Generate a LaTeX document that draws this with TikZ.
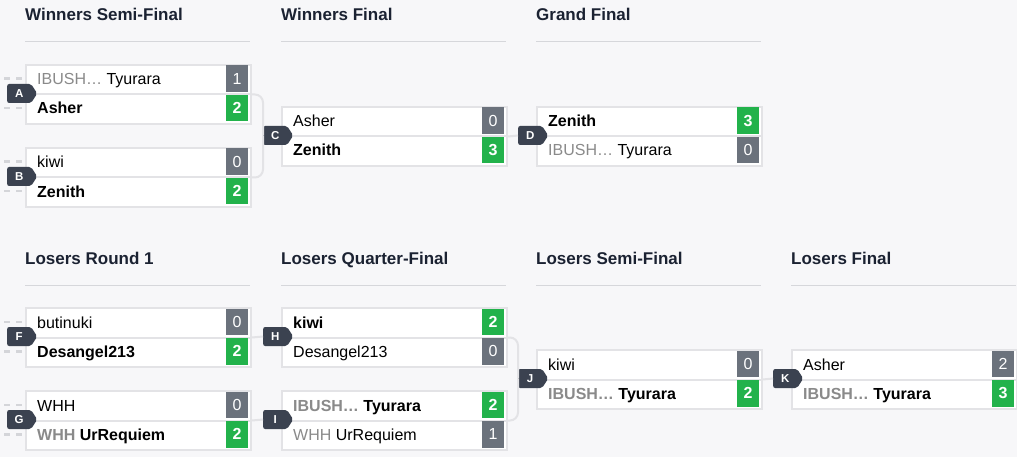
\documentclass[tikz,border=0pt]{standalone}
\usepackage{fontspec}
\setmainfont{Liberation Sans}
\usetikzlibrary{shapes.symbols}

\definecolor{paper}{HTML}{F7F7F9}
\definecolor{frame}{HTML}{E3E3E6}
\definecolor{ink}{HTML}{1B2232}
\definecolor{rulec}{HTML}{D6D7DB}
\definecolor{fade}{HTML}{8A8A8A}
\definecolor{lostc}{HTML}{6B727C}
\definecolor{wonc}{HTML}{22B24B}
\definecolor{tagc}{HTML}{3B4250}
\definecolor{stubc}{HTML}{D4D5D9}

\begin{document}
\begin{tikzpicture}[x=1pt,y=-1pt,
  head/.style={anchor=base west, inner sep=0pt, text=ink, font=\fontsize{17}{20}\selectfont\bfseries},
  rule/.style={draw=rulec, line width=1pt},
  match/.style={draw=frame, line width=2pt, fill=white, anchor=north west, inner sep=0pt, minimum width=225pt, minimum height=59pt},
  divider/.style={draw=frame, line width=2pt},
  pname/.style={anchor=base west, inner sep=0pt, font=\fontsize{16}{19}\selectfont},
  wname/.style={pname, font=\fontsize{16}{19}\selectfont\bfseries},
  lost/.style={fill=lostc, text=white, inner sep=0pt, minimum width=22pt, minimum height=26.5pt, font=\fontsize{16}{19}\selectfont},
  won/.style={lost, fill=wonc, font=\fontsize{16}{19}\selectfont\bfseries},
  badge/.style={shape=signal, signal to=east, signal pointer angle=115, fill=tagc, text=white, rounded corners=2pt, anchor=west, inner sep=0pt, minimum width=30pt, minimum height=19pt, font=\fontsize{11.5}{13}\selectfont\bfseries},
  link/.style={draw=frame, line width=2pt, rounded corners=8pt},
  stub/.style={draw=stubc, line width=2.5pt, dash pattern=on 6pt off 6pt}]

\useasboundingbox (0,0) rectangle (1017,457);
\fill[paper] (0,0) rectangle (1017,457);

%round headings
\node[head] (hws) at (25,21) {Winners Semi-Final};
\node[head] (hwf) at (281,21) {Winners Final};
\node[head] (hgf) at (536,21) {Grand Final};
\node[head] (hlr) at (25,264) {Losers Round 1};
\node[head] (hlq) at (281,264) {Losers Quarter-Final};
\node[head] (hls) at (536,264) {Losers Semi-Final};
\node[head] (hlf) at (791,264) {Losers Final};
\foreach \x in {25,281,536} \draw[rule] (\x,42) -- ++(225,0);
\foreach \x in {25,281,536,791} \draw[rule] (\x,285) -- ++(225,0);

%feeder stubs on the left
\foreach \y in {78.75,108.25,161.75,191.25,321.75,351.25,404.75,434.25} \draw[stub] (4,\y) -- (22,\y);

%match frames and tags
\foreach \m/\x/\y in {A/25/64, B/25/147, C/281/106, D/536/106, F/25/307, G/25/390, H/281/307, I/281/390, J/536/349, K/791/349}
{
  \node[match] (\m) at (\x,\y) {};
  \draw[divider] (\m.west) -- (\m.east);
  \node[badge] (b\m) at (\x-18,\y+29.5) {\m};
}

%winners bracket
\node[pname] (A1) at (37,85) {\textcolor{fade}{IBUSH…} Tyurara};
\node[lost] (A1s) at (237,78.75) {1};
\node[wname] (A2) at (37,114) {Asher};
\node[won] (A2s) at (237,108.25) {2};

\node[pname] (B1) at (37,168) {kiwi};
\node[lost] (B1s) at (237,161.75) {0};
\node[wname] (B2) at (37,197) {Zenith};
\node[won] (B2s) at (237,191.25) {2};

\node[pname] (C1) at (293,127) {Asher};
\node[lost] (C1s) at (493,120.75) {0};
\node[wname] (C2) at (293,156) {Zenith};
\node[won] (C2s) at (493,150.25) {3};

\node[wname] (D1) at (548,127) {Zenith};
\node[won] (D1s) at (748,120.75) {3};
\node[pname] (D2) at (548,156) {\textcolor{fade}{IBUSH…} Tyurara};
\node[lost] (D2s) at (748,150.25) {0};

%losers bracket
\node[pname] (F1) at (37,328) {butinuki};
\node[lost] (F1s) at (237,321.75) {0};
\node[wname] (F2) at (37,357) {Desangel213};
\node[won] (F2s) at (237,351.25) {2};

\node[pname] (G1) at (37,411) {WHH};
\node[lost] (G1s) at (237,404.75) {0};
\node[wname] (G2) at (37,440) {\textcolor{fade}{WHH} UrRequiem};
\node[won] (G2s) at (237,434.25) {2};

\node[wname] (H1) at (293,328) {kiwi};
\node[won] (H1s) at (493,321.75) {2};
\node[pname] (H2) at (293,357) {Desangel213};
\node[lost] (H2s) at (493,351.25) {0};

\node[wname] (I1) at (293,411) {\textcolor{fade}{IBUSH…} Tyurara};
\node[won] (I1s) at (493,404.75) {2};
\node[pname] (I2) at (293,440) {\textcolor{fade}{WHH} UrRequiem};
\node[lost] (I2s) at (493,434.25) {1};

\node[pname] (J1) at (548,370) {kiwi};
\node[lost] (J1s) at (748,363.75) {0};
\node[wname] (J2) at (548,399) {\textcolor{fade}{IBUSH…} Tyurara};
\node[won] (J2s) at (748,393.25) {2};

\node[pname] (K1) at (803,370) {Asher};
\node[lost] (K1s) at (1003,363.75) {2};
\node[wname] (K2) at (803,399) {\textcolor{fade}{IBUSH…} Tyurara};
\node[won] (K2s) at (1003,393.25) {3};

%connectors
\draw[link] (A.east) -| (bC.west);
\draw[link] (B.east) -| (bC.west);
\draw[link] (C.east) -- (bD.west);
\draw[link] (F.east) -- (bH.west);
\draw[link] (G.east) -- (bI.west);
\draw[link] (H.east) -| (bJ.west);
\draw[link] (I.east) -| (bJ.west);
\draw[link] (J.east) -- (bK.west);

\end{tikzpicture}
\end{document}
